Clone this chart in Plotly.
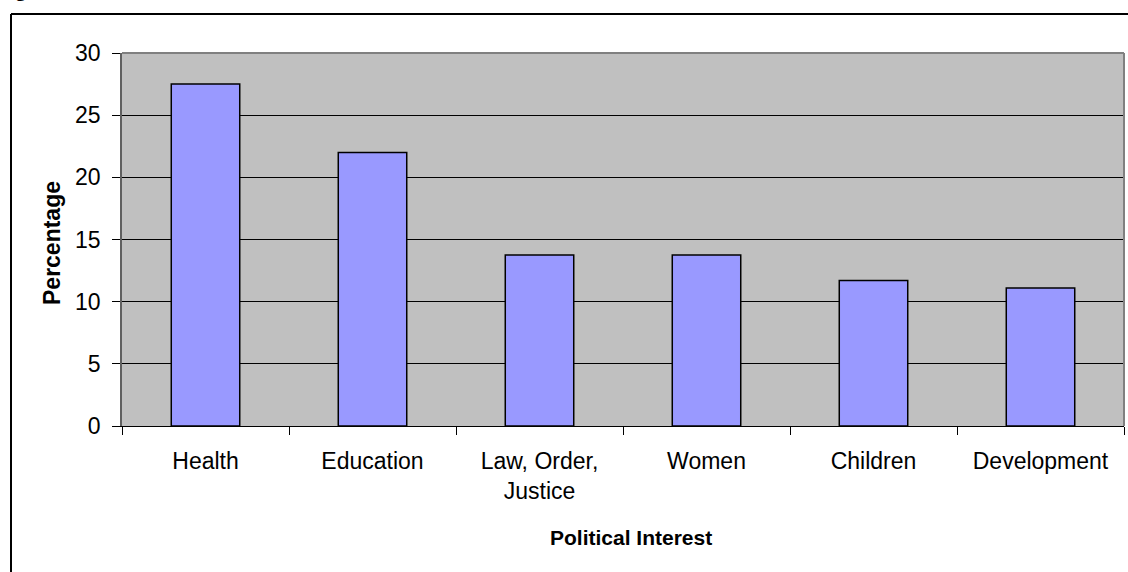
import plotly.graph_objects as go

categories = ["Health", "Education", "Law, Order,<br>Justice", "Women", "Children", "Development"]
values = [27.5, 22.0, 13.75, 13.75, 11.7, 11.1]
y_ticks = [0, 5, 10, 15, 20, 25, 30]

W, H = 1128, 572
L, R, T, B = 122, 4, 53, 146
pw, ph = W - L - R, H - T - B

def px(x):
    return (x - L) / pw

def py(y):
    return (H - B - y) / ph

fig = go.Figure()
fig.add_trace(go.Bar(
    x=categories, y=values,
    marker=dict(color="#9999FF", line=dict(color="black", width=1.5)),
    width=0.41,
))

font = "Liberation Sans, Arial, sans-serif"
fs = 23
fig.update_layout(
    width=W, height=H,
    margin=dict(l=L, r=R, t=T, b=B),
    paper_bgcolor="white",
    plot_bgcolor="#C0C0C0",
    showlegend=False,
    font=dict(family=font, size=fs, color="black"),
    xaxis=dict(
        type="category",
        showgrid=False,
        ticks="outside", tickson="boundaries", ticklen=8, tickcolor="black", tickwidth=1,
        showline=True, linecolor="black", linewidth=1,
        tickfont=dict(size=fs),
        ticklabelstandoff=14,
    ),
    yaxis=dict(
        range=[0, 30], tickvals=y_ticks,
        showgrid=True, gridcolor="black", gridwidth=1,
        ticks="outside", ticklen=8, tickcolor="black", tickwidth=1,
        showline=True, linecolor="#606060", linewidth=1.5,
        zeroline=False,
        tickfont=dict(size=fs),
        ticklabelstandoff=7,
    ),
    shapes=[
        dict(type="line", xref="paper", yref="paper", x0=1, x1=1, y0=0, y1=1,
             line=dict(color="#808080", width=2)),
        dict(type="line", xref="paper", yref="paper", x0=0, x1=1, y0=1, y1=1,
             line=dict(color="#808080", width=2)),
        dict(type="line", xref="paper", yref="paper", x0=px(11), x1=px(11), y0=py(14), y1=py(600),
             line=dict(color="black", width=2)),
        dict(type="line", xref="paper", yref="paper", x0=px(11), x1=px(1140), y0=py(14), y1=py(14),
             line=dict(color="black", width=2)),
    ],
    annotations=[
        dict(text="<b>Percentage</b>", xref="paper", yref="paper", x=px(52), y=py(243),
             xanchor="center", yanchor="middle",
             textangle=-90, showarrow=False, font=dict(size=fs, family=font)),
        dict(text="<b>Political Interest</b>", xref="paper", yref="paper", x=px(631), y=py(537),
             xanchor="center", yanchor="middle",
             showarrow=False, font=dict(size=21, family=font)),
        dict(text="<b>Figure</b>", xref="paper", yref="paper", x=px(-4), y=py(3),
             xanchor="left", yanchor="bottom", showarrow=False,
             font=dict(size=20, family="Liberation Serif, Times New Roman, serif")),
    ],
)

fig.write_html("out.html")
